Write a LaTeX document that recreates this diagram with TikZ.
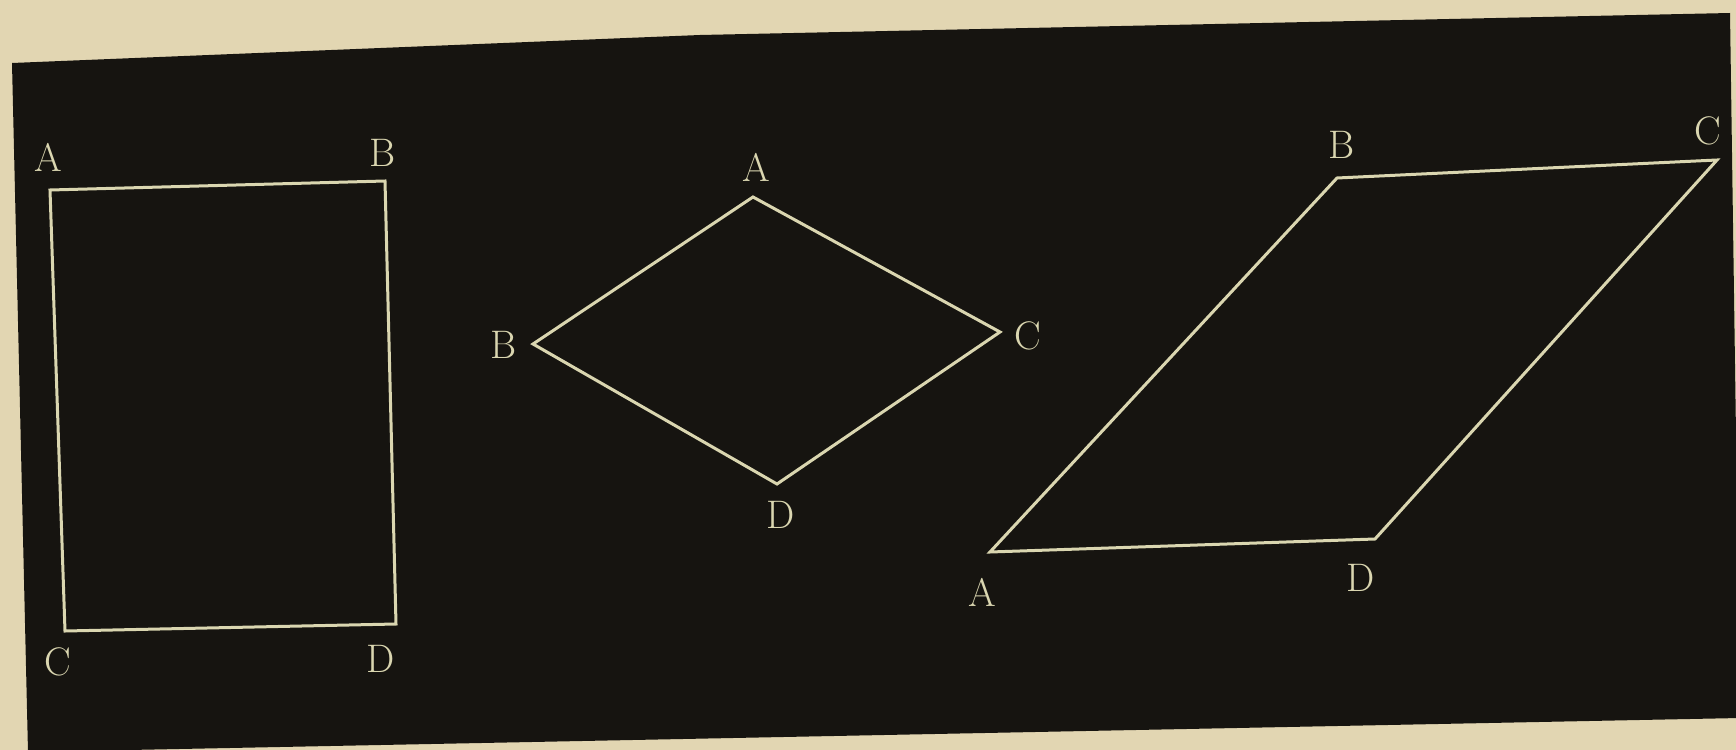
\documentclass[tikz,border=0pt]{standalone}
\begin{document}
\begin{tikzpicture}[x=1bp,y=-1bp,
  fig/.style={draw=chalk,line width=3bp,line join=miter},
  lab/.style={text=chalk,font=\fontsize{40}{40}\selectfont,inner sep=0pt}]
\definecolor{paper}{RGB}{226,214,178}
\definecolor{board}{RGB}{22,20,16}
\definecolor{chalk}{RGB}{218,214,176}
\useasboundingbox (0,0) rectangle (1736,750);
\fill[paper] (0,0) rectangle (1736,750);
\fill[board] (12,63) -- (700,35) -- (1730,13) -- (1740,718) -- (28,752) -- cycle;
% square
\coordinate (sA) at (50,190);
\coordinate (sB) at (385,181);
\coordinate (sC) at (65,631);
\coordinate (sD) at (396,624);
\draw[fig] (sA) -- (sB) -- (sD) -- (sC) -- cycle;
\node[lab] (lsA) at (48,157) {A};
\node[lab] (lsB) at (383,153) {B};
\node[lab] (lsC) at (58,662) {C};
\node[lab] (lsD) at (381,659) {D};
% rhombus
\coordinate (rA) at (753,197);
\coordinate (rB) at (533,344);
\coordinate (rC) at (1000,332);
\coordinate (rD) at (777,484);
\draw[fig] (rA) -- (rC) -- (rD) -- (rB) -- cycle;
\node[lab] (lrA) at (756,167) {A};
\node[lab] (lrB) at (504,345) {B};
\node[lab] (lrC) at (1028,336) {C};
\node[lab] (lrD) at (781,515) {D};
% parallelogram
\coordinate (pA) at (990,552);
\coordinate (pB) at (1337,178);
\coordinate (pC) at (1717,160);
\coordinate (pD) at (1375,539);
\draw[fig] (pA) -- (pB) -- (pC) -- (pD) -- cycle;
\node[lab] (lpA) at (982,592) {A};
\node[lab] (lpB) at (1342,145) {B};
\node[lab] (lpC) at (1708,131) {C};
\node[lab] (lpD) at (1361,578) {D};
\end{tikzpicture}
\end{document}
